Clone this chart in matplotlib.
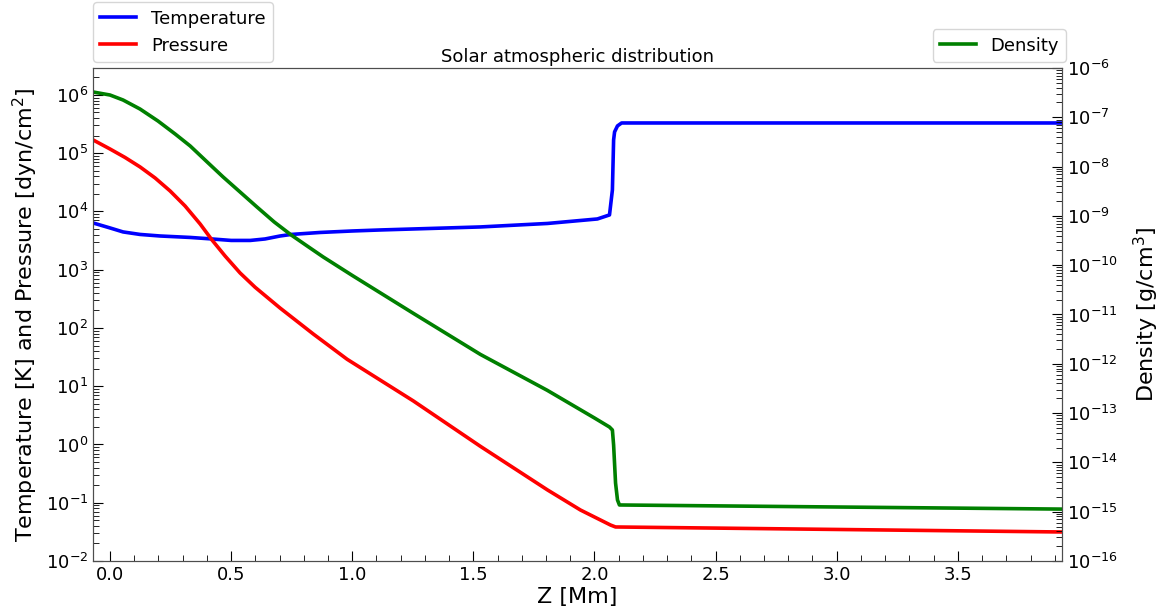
import numpy as np
import matplotlib.pyplot as plt
from matplotlib.ticker import LogLocator, NullFormatter

# values
z_T = [-0.07, 0.0, 0.054, 0.124, 0.207, 0.331, 0.421, 0.5, 0.579, 0.64,
       0.702, 0.748, 0.868, 1.0, 1.116, 1.529, 1.806, 2.012, 2.062, 2.074,
       2.079, 2.083, 2.095, 2.112, 3.93]
temp = [6350, 5210, 4450, 4030, 3790, 3580, 3370, 3180, 3180, 3370,
        3790, 4030, 4360, 4620, 4810, 5420, 6220, 7430, 8710, 23400,
        1.69e5, 2.32e5, 2.94e5, 3.3e5, 3.3e5]

z_P = [-0.07, 0.0, 0.062, 0.124, 0.186, 0.248, 0.31, 0.372, 0.421, 0.475,
       0.537, 0.599, 0.702, 0.839, 0.979, 1.252, 1.529, 1.806, 1.942, 2.066,
       2.087, 3.93]
pres = [1.69e5, 1.18e5, 8.45e4, 5.81e4, 3.76e4, 2.25e4, 1.24e4, 6100, 3240, 1720,
        879, 500, 220, 78.9, 29.0, 5.6, 0.93, 0.166, 0.0751, 0.0415,
        0.0384, 0.0315]

z_D = [-0.07, 0.0, 0.054, 0.124, 0.198, 0.269, 0.331, 0.401, 0.467, 0.537,
       0.607, 0.678, 0.748, 0.814, 0.88, 1.0, 1.253, 1.529, 1.805, 2.0,
       2.062, 2.074, 2.079, 2.087, 2.095, 2.103, 3.93]
dens = [3.26e-7, 2.83e-7, 2.24e-7, 1.47e-7, 8.41e-8, 4.58e-8, 2.62e-8, 1.24e-8, 6.15e-9, 3.05e-9,
        1.51e-9, 7.52e-10, 4.10e-10, 2.45e-10, 1.47e-10, 6.2e-11, 1.05e-11, 1.55e-12, 2.9e-13, 7.96e-14,
        5.22e-14, 4.54e-14, 2.25e-14, 3.82e-15, 1.73e-15, 1.37e-15, 1.13e-15]

fig = plt.figure(figsize=(11.66, 6.13), dpi=100)
ax = fig.add_axes([0.0798, 0.0848, 0.831, 0.8043])

ax.plot(z_T, temp, color='b', lw=2.6, label='Temperature')
ax.plot(z_P, pres, color='r', lw=2.6, label='Pressure')
ax.set_yscale('log')
ax.set_ylim(1e-2, 2.9e6)
ax.set_xlim(-0.07, 3.93)
ax.set_xlabel('Z [Mm]', fontsize=16, labelpad=2)
ax.set_ylabel('Temperature [K] and Pressure [dyn/cm$^2$]', fontsize=16)
ax.set_title('Solar atmospheric distribution', fontsize=13, pad=4)
ax.set_xticks(np.arange(0, 4.0, 0.5))
ax.set_xticks(np.arange(-0.0, 3.95, 0.1), minor=True)
ax.yaxis.set_major_locator(LogLocator(base=10, numticks=20))
ax.yaxis.set_minor_locator(LogLocator(base=10, subs=np.arange(2, 10), numticks=20))
ax.yaxis.set_minor_formatter(NullFormatter())
ax.tick_params(axis='both', which='both', direction='in', labelsize=13)
ax.tick_params(which='major', length=7)
ax.tick_params(which='minor', length=4)
ax.tick_params(axis='x', top=False, which='both')

ax2 = ax.twinx()
ax2.plot(z_D, dens, color='g', lw=2.6, label='Density')
ax2.set_yscale('log')
ax2.set_ylim(1e-16, 1e-6)
ax2.set_ylabel('Density [g/cm$^3$]', fontsize=16, labelpad=10)
ax2.yaxis.set_major_locator(LogLocator(base=10, numticks=20))
ax2.yaxis.set_minor_locator(LogLocator(base=10, subs=np.arange(2, 10), numticks=20))
ax2.yaxis.set_minor_formatter(NullFormatter())
ax2.tick_params(axis='y', which='both', direction='in', labelsize=13)
ax2.tick_params(which='major', length=7)
ax2.tick_params(which='minor', length=4)

for a in (ax, ax2):
    for s in a.spines.values():
        s.set_color('0.3')

ax.legend(loc='lower left', bbox_to_anchor=(0.0798, 0.899),
          bbox_transform=fig.transFigure, borderaxespad=0, fontsize=13)
ax2.legend(loc='lower right', bbox_to_anchor=(0.9143, 0.899),
           bbox_transform=fig.transFigure, borderaxespad=0, fontsize=13)

fig.savefig('out.png', dpi=100)
